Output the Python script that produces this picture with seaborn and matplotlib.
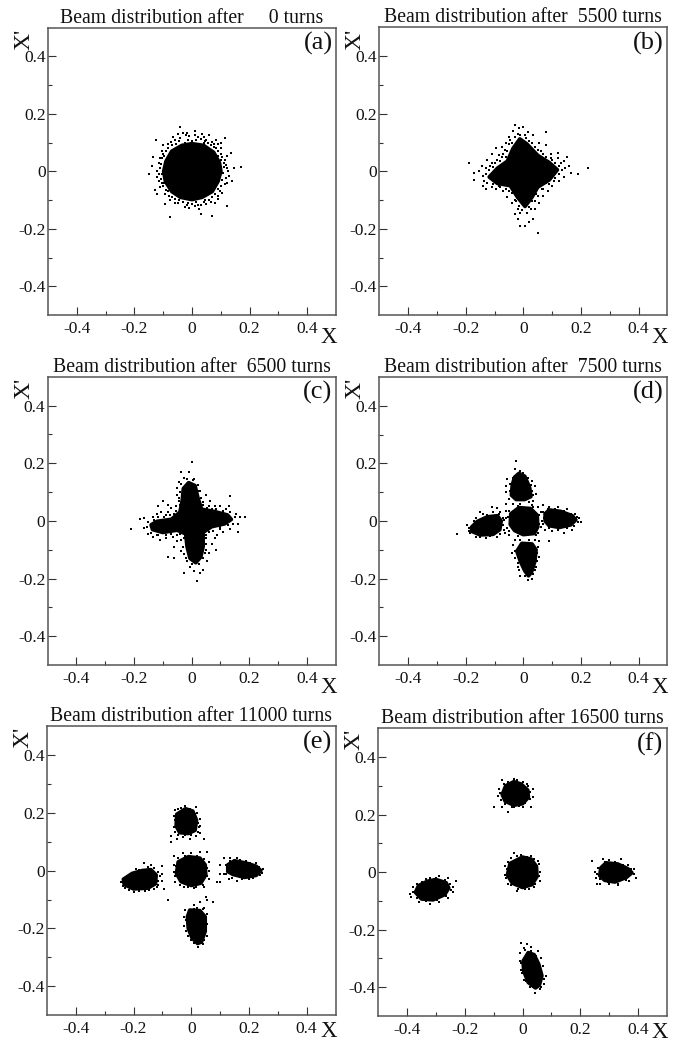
import matplotlib
matplotlib.use("Agg")
import matplotlib.pyplot as plt
import seaborn as sns

sns.set_theme(style="white")
plt.rcParams["font.family"] = ["Liberation Serif", "DejaVu Serif"]

TICKS = [-0.4, -0.2, 0, 0.2, 0.4]
TICK_LABELS = ["-0.4", "-0.2", "0", "0.2", "0.4"]
MINOR = [-0.3, -0.1, 0.1, 0.3]

TITLES = ["Beam distribution after     0 turns", "Beam distribution after  5500 turns",
          "Beam distribution after  6500 turns", "Beam distribution after  7500 turns",
          "Beam distribution after 11000 turns", "Beam distribution after 16500 turns"]
LETTERS = ["(a)", "(b)", "(c)", "(d)", "(e)", "(f)"]

# ---- dense parts of the beam, outlines
A_CORE = [[(0, .096), (.04, .09), (.075, .066), (.095, .03), (.1, 0), (.09, -.035), (.07, -.07), (.035, -.09), (0, -.098),
           (-.04, -.09), (-.07, -.07), (-.092, -.035), (-.098, 0), (-.09, .035), (-.07, .07), (-.035, .09)]]
B_CORE = [[(-.012, .112), (.012, .095), (.05, .055), (.09, .03), (.118, .005), (.09, -.03), (.05, -.055), (.03, -.09), (.006, -.122),
           (-.02, -.09), (-.045, -.05), (-.09, -.042), (-.118, -.02), (-.09, .01), (-.055, .035), (-.035, .08)]]
C_CORE = [[(-.01, .132), (.012, .122), (.022, .08), (.035, .04), (.08, .032), (.125, .02), (.138, .005), (.115, -.01), (.07, -.02),
           (.04, -.04), (.04, -.09), (.032, -.125), (.015, -.145), (-.005, -.13), (-.015, -.09), (-.02, -.045), (-.05, -.032),
           (-.1, -.04), (-.135, -.03), (-.14, -.014), (-.12, -.002), (-.07, .005), (-.04, .03), (-.032, .07), (-.028, .112)]]
D_CORE = [[(-.015, .165), (.005, .155), (.022, .115), (.026, .085), (.005, .075), (-.025, .075), (-.041, .09), (-.038, .125), (-.03, .152)],
          [(-.015, .046), (.025, .043), (.048, .02), (.05, -.02), (.038, -.043), (.0, -.047), (-.03, -.033), (-.045, -.012), (-.043, .025)],
          [(.09, .038), (.13, .033), (.17, .018), (.182, .004), (.165, -.013), (.125, -.022), (.09, -.016), (.076, .0), (.076, .025)],
          [(-.09, .018), (-.077, .0), (-.082, -.03), (-.105, -.046), (-.15, -.048), (-.178, -.036), (-.18, -.022), (-.16, -.002), (-.125, .014)],
          [(-.005, -.078), (.03, -.08), (.044, -.1), (.04, -.14), (.028, -.178), (.018, -.19), (.005, -.172), (-.01, -.14), (-.022, -.105)]]
E_CORE = [[(-.02, .214), (.005, .206), (.018, .175), (.013, .14), (-.01, .129), (-.04, .132), (-.052, .155), (-.05, .195)],
          [(-.01, .048), (.03, .043), (.048, .02), (.05, -.015), (.033, -.043), (.0, -.051), (-.035, -.038), (-.051, -.01), (-.045, .03)],
          [(.15, .034), (.19, .026), (.225, .015), (.241, .0), (.225, -.016), (.185, -.023), (.145, -.013), (.127, -.003), (.127, .02)],
          [(-.14, .003), (-.122, -.015), (-.124, -.045), (-.15, -.06), (-.2, -.063), (-.232, -.048), (-.235, -.03), (-.205, -.01), (-.17, 0)],
          [(-.005, -.137), (.03, -.139), (.048, -.16), (.048, -.21), (.035, -.247), (.022, -.252), (.003, -.233), (-.01, -.2), (-.013, -.16)]]
F_CORE = [[(-.03, .314), (-.005, .306), (.018, .285), (.02, .26), (0, .238), (-.03, .233), (-.06, .247), (-.07, .27), (-.058, .3)],
          [(.0, .052), (.03, .045), (.048, .02), (.05, -.015), (.033, -.043), (.0, -.053), (-.035, -.038), (-.052, -.01), (-.043, .03)],
          [(.29, .032), (.33, .028), (.365, .012), (.379, -.002), (.36, -.018), (.32, -.034), (.285, -.028), (.268, -.012), (.272, .015)],
          [(-.3, -.026), (-.265, -.037), (-.256, -.055), (-.27, -.078), (-.31, -.096), (-.35, -.093), (-.371, -.07), (-.36, -.047), (-.33, -.032)],
          [(.02, -.28), (.04, -.287), (.056, -.32), (.067, -.36), (.058, -.393), (.045, -.402), (.02, -.383), (.005, -.345), (.002, -.31)]]

# ---- single particles around the dense parts
A_DOTS = [(-.04, .155), (-.075, -.16), (.07, -.155), (.17, .015), (.145, .012), (-.15, -.01), (-.135, .05), (-.125, .11), (.115, .115),
          (.12, -.12), (-.095, -.115), (.135, .065), (.01, .14), (.035, .13), (-.02, .125), (-.05, .13), (.06, .125), (.085, .11),
          (-.085, .095), (-.105, .07), (-.115, .03), (-.12, -.02), (-.11, -.055), (-.095, -.08), (-.06, -.11), (-.025, -.125), (.025, -.13),
          (.05, -.115), (.08, -.11), (.105, -.075), (.12, -.04), (.125, .0), (.115, .04), (.1, .08), (.075, .095), (.045, .105),
          (.015, .11), (-.015, .11), (-.045, .105), (-.07, .09), (-.09, .07), (-.103, .045), (-.11, .01), (-.108, -.025), (-.1, -.05),
          (-.085, -.07), (-.07, -.09), (-.045, -.1), (-.015, -.11), (.015, -.105), (.045, -.1), (.07, -.09), (.09, -.06), (.105, -.03),
          (.11, .015), (.105, .05), (.09, .07), (.065, .09), (-.13, -.065), (.14, -.035), (-.065, .12), (.03, -.15), (-.14, .02),
          (.1, .1), (.01, -.12), (-.03, .135), (.13, -.015), (-.12, -.08), (-.1, .09), (.09, -.095),
          (.0, .105), (.02, .118), (.04, .1), (.055, .097), (.07, .103), (.085, .082), (.1, .062), (.11, .03), (.118, .022), (.108, -.005),
          (.117, -.022), (.1, -.05), (.096, -.07), (.08, -.08), (.06, -.1), (.04, -.108), (.02, -.118), (0, -.112), (-.01, -.127), (-.03, -.105),
          (-.05, -.11), (-.06, -.095), (-.08, -.085), (-.09, -.065), (-.105, -.042), (-.113, -.035), (-.105, -.01), (-.12, .002), (-.108, .025),
          (-.11, .045), (-.096, .055), (-.082, .082), (-.072, .102), (-.056, .096), (-.04, .116), (-.025, .1), (-.01, .122), (.01, .128), (.03, .112),
          (.05, .11), (.075, .085), (.092, .055), (.102, .04), (.12, .055), (.122, .012), (.113, -.045), (.092, -.085), (.065, -.108), (.03, -.117),
          (-.018, -.118), (-.075, -.1), (-.098, -.04), (-.115, -.01), (-.102, .06), (-.06, .108), (-.018, .132), (.042, .12), (.09, .095)]
B_DOTS = [(-.19, .03), (.225, .01), (.05, -.215), (.19, -.01), (-.17, -.005), (.08, .135), (-.17, -.03), (-.155, .0), (-.145, .02),
          (-.14, -.05), (-.13, -.06), (-.125, .04), (-.11, .06), (-.095, .08), (-.075, .085), (-.06, .1), (-.05, .12), (-.035, .14),
          (-.03, .16), (-.015, .15), (0, .155), (.015, .135), (.035, .125), (.055, .1), (.08, .09), (.095, .06), (.12, .045), (.14, .035),
          (.16, .02), (.165, -.005), (.14, -.02), (.125, -.035), (.1, -.05), (.085, -.07), (.07, -.085), (.055, -.11), (.04, -.13), (.035, -.165),
          (.02, -.175), (.005, -.19), (-.01, -.19), (-.02, -.165), (-.03, -.15), (-.02, -.13), (-.04, -.11), (-.055, -.09), (-.07, -.07),
          (-.095, -.06), (-.11, -.055), (-.135, -.035), (-.13, -.01), (-.115, .02), (-.09, .04), (-.07, .06), (-.055, .07), (-.04, .1),
          (-.02, .13), (.01, .115), (.03, .1), (.05, .075), (.07, .06), (.1, .04), (.125, .02), (.135, .005), (.11, -.025), (.08, -.04),
          (.065, -.06), (.045, -.08), (.03, -.105), (.02, -.125), (-.01, -.145), (-.03, -.1), (-.05, -.07), (-.08, -.055), (.15, .05), (.12, .065),
          (-.12, .005), (-.11, .03), (-.1, .03), (-.085, .055), (-.075, .05), (-.065, .075), (-.05, .095), (-.045, .11), (-.03, .12), (-.01, .125),
          (.005, .125), (.02, .105), (.04, .085), (.06, .07), (.08, .05), (.095, .045), (.11, .03), (.13, .03), (.145, .01), (.125, -.01), (.105, -.035),
          (.09, -.045), (.07, -.06), (.05, -.085), (.04, -.105), (.025, -.13), (.012, -.145), (-.005, -.135), (-.015, -.12), (-.025, -.105), (-.04, -.075),
          (-.06, -.06), (-.085, -.05), (-.105, -.045), (-.125, -.04), (-.14, -.015), (-.128, .012), (-.105, .015), (-.08, .035), (-.06, .05)]
C_DOTS = [(0, .205), (-.21, -.03), (-.035, .17), (-.01, .17), (.01, .145), (-.025, .15), (-.045, .135), (-.05, .115), (-.05, .09), (.03, .105),
          (.05, .09), (.065, .07), (.08, .05), (.1, .05), (.13, .05), (.135, .085), (.155, .025), (.17, .015), (.185, .012), (.16, -.01), (.16, -.04),
          (.135, -.03), (.11, -.04), (.09, -.05), (.08, -.06), (.07, -.08), (.085, -.1), (.06, -.11), (.055, -.14), (.04, -.17), (.03, -.18), (.02, -.21),
          (.01, -.175), (-.005, -.16), (-.025, -.18), (-.02, -.13), (-.035, -.105), (-.06, -.13), (-.08, -.125), (-.06, -.09), (-.05, -.07), (-.065, -.055),
          (-.09, -.06), (-.11, -.065), (-.135, -.055), (-.15, -.045), (-.165, -.025), (-.18, .005), (-.165, .01), (-.135, .015), (-.12, .025), (-.105, .03),
          (-.09, .02), (-.08, .03), (-.115, .05), (-.1, .07), (-.07, .045), (-.055, .05), (-.045, .07), (.04, .065), (.06, .05), (.06, -.04), (.05, -.06),
          (.1, -.03), (.12, .04), (-.12, -.05), (.025, -.15), (-.08, .055), (.05, -.1), (-.04, -.045),
          (-.04, .1), (-.045, .08), (-.04, .055), (-.055, .035), (-.075, .02), (-.095, .012), (-.115, .012), (-.13, .002), (-.15, -.005), (-.155, -.022), (-.14, -.042),
          (-.115, -.05), (-.09, -.05), (-.07, -.045), (-.05, -.048), (-.035, -.065), (-.028, -.09), (-.025, -.115), (-.015, -.14), (.0, -.15), (.04, -.13), (.048, -.11),
          (.05, -.08), (.052, -.05), (.075, -.035), (.1, -.022), (.125, -.015), (.145, -.01), (.15, .012), (.135, .03), (.11, .035), (.085, .042), (.055, .045), (.04, .055),
          (.032, .08), (.027, .105), (.022, .125), (.005, .14), (-.015, .145), (-.035, .128), (.07, .04), (.09, .03), (-.06, .025), (-.025, -.06), (.045, -.07)]
D_DOTS = [(-.025, .21), (-.23, -.045), (.2, -.005), (-.03, .18), (-.01, .175), (-.055, .145), (-.06, .12), (-.06, .1), (-.05, .075), (.03, .14), (.04, .12),
          (.045, .095), (.035, .07), (.02, .065), (-.06, .06), (-.035, .06), (-.01, .06), (.03, .055), (.05, .05), (.07, .055), (.09, .05), (.12, .05), (.15, .04),
          (.18, .025), (.195, .01), (.17, -.03), (.14, -.04), (.1, -.035), (.075, -.03), (.065, .0), (.06, .03), (.06, -.02), (.05, -.04), (.09, -.07), (.055, -.07),
          (.05, -.09), (.055, -.125), (.045, -.16), (.03, -.2), (.015, -.205), (-.01, -.19), (-.02, -.16), (-.03, -.13), (-.04, -.11), (-.035, -.085), (-.03, -.065),
          (-.01, -.065), (.02, -.065), (.04, -.065), (-.05, -.05), (-.055, -.025), (-.06, .01), (-.06, .035), (-.065, -.04), (-.09, -.055), (-.13, -.06), (-.165, -.055),
          (-.19, -.035), (-.195, -.015), (-.165, .01), (-.14, .025), (-.105, .03), (-.08, .03), (-.07, .01), (-.07, -.015), (-.09, .045), (-.11, .05), (.1, .035), (-.15, .03),
          (-.047, .13), (-.045, .105), (-.035, .15), (.03, .105), (.032, .09), (.025, .125), (.015, .15), (.0, .165), (.07, .03), (.072, .01), (.068, -.012), (.085, .042),
          (.11, .04), (.14, .036), (.165, .025), (.185, .015), (.19, -.005), (.175, -.018), (.15, -.025), (.12, -.03), (.09, -.025), (.047, -.11), (.048, -.14), (.04, -.17),
          (.032, -.185), (.005, -.19), (-.015, -.17), (-.02, -.145), (-.03, -.105), (-.172, .0), (-.188, -.025), (-.185, -.042), (-.15, -.056), (-.115, -.053), (-.08, -.045),
          (-.068, -.03), (-.068, .005), (-.085, .025), (-.125, .022), (-.05, .035), (-.052, .015), (-.05, -.035), (-.02, -.052), (.045, -.05), (.056, -.01), (.055, .02), (.035, .05), (-.02, .052)]
E_DOTS = [(-.02, .225), (.015, .22), (-.045, .215), (-.06, .19), (-.06, .15), (-.07, .12), (-.07, .1), (-.05, .11), (-.03, .115), (-.005, .11), (.015, .12),
          (.03, .13), (.045, .11), (.03, .155), (.03, .18), (.02, .2), (-.06, .05), (-.03, .06), (.0, .06), (.03, .065), (.055, .065), (.06, .03), (.06, .0), (.06, -.03),
          (.045, -.055), (.01, -.06), (-.025, -.055), (-.055, -.04), (-.06, -.005), (-.06, .02), (.1, .02), (.1, -.01), (.1, -.04), (.09, -.04), (.115, .045), (.135, .045),
          (.16, .045), (.19, .035), (.225, .025), (.25, .005), (.24, -.015), (.2, -.03), (.16, -.035), (.13, -.03), (.115, -.01), (.12, .02), (-.1, .015), (-.1, -.01), (-.1, -.035),
          (-.095, -.065), (-.115, -.05), (-.11, -.02), (-.14, .02), (-.165, .025), (-.19, .005), (-.22, -.02), (-.245, -.04), (-.23, -.06), (-.2, -.075), (-.16, -.07), (-.13, -.065),
          (-.08, -.1), (.05, -.09), (.055, -.1), (.075, -.11), (.03, -.11), (.01, -.12), (-.02, -.135), (-.025, -.16), (-.025, -.19), (-.01, -.225), (.01, -.25), (.025, -.265),
          (.04, -.255), (.055, -.225), (.055, -.185), (.055, -.15), (.045, -.13), (.02, -.13),
          (-.055, .135), (-.045, .122), (-.02, .122), (.0, .122), (.022, .135), (.028, .15), (.025, .165), (.012, .195), (-.005, .215), (-.035, .218), (-.055, .175), (-.057, .21),
          (.055, .01), (.054, -.02), (.04, -.05), (.015, -.058), (-.01, -.058), (-.04, -.05), (-.056, -.02), (-.054, .015), (-.045, .045), (-.02, .052), (.02, .052), (.045, .04),
          (.135, .035), (.17, .036), (.205, .028), (.235, .014), (.245, -.008), (.215, -.025), (.175, -.03), (.14, -.025), (.122, -.012), (-.128, .008), (-.15, .012), (-.18, .003),
          (-.21, -.015), (-.238, -.052), (-.215, -.068), (-.18, -.07), (-.145, -.068), (-.12, -.058), (-.114, -.035), (-.115, -.005), (-.018, -.17), (-.018, -.21), (-.002, -.24),
          (.045, -.24), (.05, -.2), (.05, -.17), (.04, -.133), (.01, -.133)]
F_DOTS = [(-.03, .325), (-.07, .32), (-.08, .29), (-.085, .265), (-.1, .225), (-.07, .225), (-.05, .21), (-.03, .225), (.0, .225), (.03, .225), (.035, .26), (.035, .29), (.015, .305),
          (-.04, .05), (-.03, .065), (-.005, .06), (.03, .055), (.055, .04), (.06, .0), (.06, -.03), (.04, -.05), (.01, -.06), (-.02, -.065), (-.05, -.04), (-.06, -.01), (-.06, .02),
          (.24, .04), (.25, .0), (.255, -.02), (.26, -.04), (.28, .045), (.3, .042), (.34, .045), (.365, .025), (.385, .01), (.395, -.02), (.37, -.03), (.33, -.045), (.3, -.04), (.27, -.04),
          (-.23, -.03), (-.24, -.05), (-.24, -.07), (-.26, -.09), (-.29, -.105), (-.32, -.11), (-.36, -.105), (-.385, -.085), (-.39, -.075), (-.38, -.05), (-.35, -.035), (-.32, -.02), (-.29, -.015), (-.26, -.02),
          (-.005, -.245), (.015, -.25), (.03, -.26), (.055, -.275), (.065, -.3), (.07, -.325), (.08, -.36), (.075, -.39), (.06, -.405), (.045, -.42), (.025, -.4), (.005, -.375), (-.005, -.34), (-.01, -.31), (-.01, -.28), (.005, -.265),
          (-.05, .315), (-.065, .305), (-.078, .275), (-.075, .25), (-.06, .238), (-.035, .226), (-.012, .23), (.01, .24), (.026, .255), (.027, .28), (.02, .3), (.0, .315), (-.02, .322),
          (.056, .03), (.056, -.015), (.045, -.042), (.022, -.057), (-.015, -.057), (-.04, -.045), (-.056, -.02), (-.055, .012), (-.05, .035), (-.02, .055), (.015, .052), (.04, .045),
          (.262, .015), (.26, -.008), (.27, -.025), (.295, -.034), (.33, -.04), (.36, -.026), (.385, -.008), (.375, .012), (.35, .024), (.32, .036), (.285, .037),
          (-.25, -.04), (-.248, -.062), (-.265, -.082), (-.295, -.098), (-.335, -.102), (-.365, -.09), (-.378, -.068), (-.365, -.04), (-.335, -.025), (-.3, -.02), (-.27, -.028),
          (.01, -.27), (.03, -.275), (.048, -.29), (.062, -.33), (.073, -.37), (.063, -.4), (.035, -.4), (.012, -.38), (-.002, -.35), (-.004, -.315)]

CORES = [A_CORE, B_CORE, C_CORE, D_CORE, E_CORE, F_CORE]
DOTS = [A_DOTS, B_DOTS, C_DOTS, D_DOTS, E_DOTS, F_DOTS]

W, H = 678, 1044
# left, right, top, bottom of every panel, in pixels
BOXES = [(48, 336, 27.7, 315), (379.3, 667.3, 27.5, 315), (47.5, 335.5, 376.7, 665),
         (379.3, 667.3, 377, 665), (47, 335.5, 726.3, 1015), (378.3, 666.7, 728.3, 1016)]

fig = plt.figure(figsize=(W / 100, H / 100), dpi=100, facecolor="white")
for i, (box, core, dots, title, letter) in enumerate(zip(BOXES, CORES, DOTS, TITLES, LETTERS)):
    l, r, t, b = box
    ax = fig.add_axes([l / W, 1 - b / H, (r - l) / W, (b - t) / H])
    for outline in core:
        ax.fill([p[0] for p in outline], [p[1] for p in outline], facecolor="black", edgecolor="black",
                lw=2.8, joinstyle="round", zorder=2)
    sns.scatterplot(x=[p[0] for p in dots], y=[p[1] for p in dots], ax=ax, color="black",
                    marker="s", s=1.5, linewidth=0, zorder=3)
    ax.set_xlim(-0.5, 0.5)
    ax.set_ylim(-0.5, 0.5)
    ax.set_xticks(TICKS, TICK_LABELS)
    ax.set_yticks(TICKS, TICK_LABELS)
    ax.set_xticks(MINOR, minor=True)
    ax.set_yticks(MINOR, minor=True)
    ax.tick_params(which="major", direction="in", length=6, width=0.8, color="#333333",
                   labelsize=12.5, labelcolor="#111111", bottom=True, left=True)
    ax.tick_params(axis="x", which="major", pad=4)
    ax.tick_params(axis="y", which="major", pad=1.5)
    ax.tick_params(which="minor", direction="in", length=3, width=0.8, color="#333333", bottom=True, left=True)
    for s in ax.spines.values():
        s.set_color("#555555")
        s.set_linewidth(1.1)
    ax.set_title(title, fontsize=14.2, pad=0, color="#111111")
    ax.text(0.988, 0.985, letter, transform=ax.transAxes, ha="right", va="top", fontsize=19, color="#111111")
    ax.text(0.975, -0.02 if i >= 4 else -0.043, "X", transform=ax.transAxes, ha="center", va="top",
            fontsize=16.5, color="#111111")
    ax.text(-0.083, 0.96, "X'", transform=ax.transAxes, ha="center", va="center", rotation=90, fontsize=17, color="#111111")

fig.savefig("out.png", dpi=100, facecolor="white")
